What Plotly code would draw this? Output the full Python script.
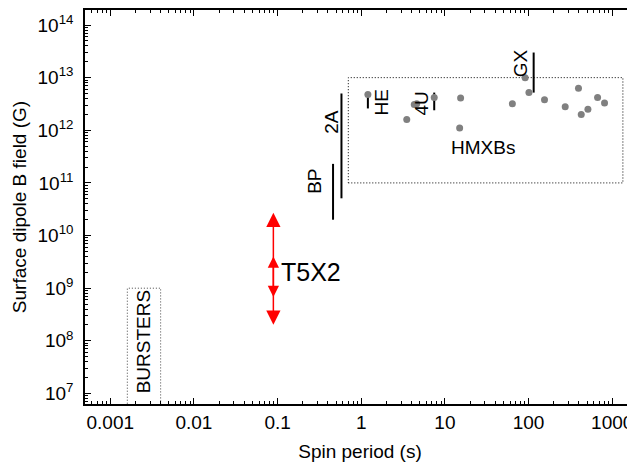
import numpy as np
import plotly.graph_objects as go

# HMXB sources (spin period s, B field G)
hmxb_period = [1.2, 3.5, 4.3, 4.6, 7.45, 15.4, 15, 64, 91, 101, 155, 274, 395, 426, 512, 668, 809]
hmxb_field = [4.8e12, 1.6e12, 3.1e12, 3.2e12, 4.2e12, 4.1e12, 1.1e12, 3.2e12, 1.0e13, 5.2e12,
              3.8e12, 2.8e12, 6.3e12, 2.0e12, 2.5e12, 4.2e12, 3.3e12]

# Vertical range bars for named sources
bar_names = ["BP", "2A", "HE", "4U", "GX"]
bar_period = [0.46, 0.58, 1.2, 7.45, 115]
bar_field_lo = [2.0e10, 5.1e10, 2.6e12, 2.4e12, 5.2e12]
bar_field_hi = [2.3e11, 5.0e12, 5.0e12, 5.2e12, 3.0e13]

# Label positions (period, field)
label_text = ["BP", "2A", "HE", "4U", "GX", "HMXBs", "BURSTERS"]
label_period = [0.28, 0.447, 1.73, 5.3, 81, 28.7, 0.0025]
label_field = [1.05e11, 1.45e12, 3.4e12, 3.2e12, 1.86e13, 4.8e11, 9.6e7]
label_angle = [-90, -90, -90, -90, -90, 0, -90]

# Region boxes
hmxb_box_period = [0.7, 1340]
hmxb_box_field = [1e11, 1e13]
burst_box_period = [0.0016, 0.004]
burst_box_field = [1e6, 1e9]

# T5X2 ranges
t5x2_period = 0.089
t5x2_outer = [1.9e8, 2.7e10]
t5x2_inner = [6.4e8, 4.0e9]
t5x2_label_period = 0.105
t5x2_label_field = 2.0e9

# axis ticks (labelled decades, and decades holding minor ticks)
x_decades = list(range(-3, 4))
y_decades = list(range(7, 15))
x_minor_decades = list(range(-4, 4))
y_minor_decades = list(range(6, 15))

FONT = "Liberation Sans, Arial, sans-serif"
FS = 19

fig = go.Figure()

def box_trace(px, fy, color):
    xs = [px[0], px[1], px[1], px[0], px[0]]
    ys = [fy[0], fy[0], fy[1], fy[1], fy[0]]
    return go.Scatter(x=xs, y=ys, mode="lines", line=dict(color=color, width=1, dash="1px,2px"),
                      hoverinfo="skip", showlegend=False)

fig.add_trace(box_trace(hmxb_box_period, hmxb_box_field, "black"))
fig.add_trace(box_trace(burst_box_period, burst_box_field, "#444444"))

# vertical bars
bx, by = [], []
for p, lo, hi in zip(bar_period, bar_field_lo, bar_field_hi):
    bx += [p, p, None]
    by += [lo, hi, None]
fig.add_trace(go.Scatter(x=bx, y=by, mode="lines", line=dict(color="black", width=2),
                         showlegend=False, hoverinfo="skip"))

fig.add_trace(go.Scatter(x=hmxb_period, y=hmxb_field, mode="markers",
                         marker=dict(color="#808080", size=7), showlegend=False))

# labels
for t, p, f, a in zip(label_text, label_period, label_field, label_angle):
    fig.add_annotation(x=np.log10(p), y=np.log10(f), text=t, textangle=a, showarrow=False,
                       font=dict(family=FONT, size=FS, color="black"))

# T5X2 arrows
for rng, sz in ((t5x2_outer, 1.9), (t5x2_inner, 1.5)):
    fig.add_annotation(x=np.log10(t5x2_period), y=np.log10(rng[1]),
                       ax=np.log10(t5x2_period), ay=np.log10(rng[0]),
                       xref="x", yref="y", axref="x", ayref="y", text="",
                       showarrow=True, arrowhead=2, arrowside="end+start",
                       arrowsize=sz, arrowwidth=1.5, arrowcolor="red")
fig.add_annotation(x=np.log10(t5x2_label_period), y=np.log10(t5x2_label_field), text="T5X2",
                   showarrow=False, xanchor="left", font=dict(family=FONT, size=25, color="black"))

def minor_vals(decades):
    return [m * 10.0 ** e for e in decades for m in range(2, 10)]

axis_common = dict(type="log", showgrid=False, zeroline=False, showline=True, linecolor="black",
                   linewidth=1.5, mirror="ticks", ticks="inside", ticklen=6, tickcolor="black",
                   tickwidth=1, automargin=False,
                   tickfont=dict(family=FONT, size=FS, color="black"))

fig.update_xaxes(**axis_common, range=[-3.302, 3.272],
                 tickmode="array", tickvals=[10.0 ** e for e in x_decades],
                 ticktext=[("%g" % (10.0 ** e)) if e < 0 else str(int(10 ** e)) for e in x_decades],
                 minor=dict(tickmode="array", tickvals=minor_vals(x_minor_decades), ticks="inside",
                            ticklen=3, tickcolor="black", showgrid=False),
                 title=dict(text="Spin period (s)", font=dict(family=FONT, size=FS, color="black"),
                            standoff=13))
fig.update_yaxes(**axis_common, range=[6.80, 14.285],
                 tickmode="array", tickvals=[10.0 ** e for e in y_decades],
                 ticktext=["10<sup>%d</sup>" % e for e in y_decades],
                 minor=dict(tickmode="array", tickvals=minor_vals(y_minor_decades), ticks="inside",
                            ticklen=3, tickcolor="black", showgrid=False),
                 ticklabelstandoff=6,
                 title=dict(text="Surface dipole B field (G)", font=dict(family=FONT, size=FS, color="black"),
                            standoff=6))

# page body has an 8px margin, so the figure is sized/offset to land the plot frame correctly
fig.update_layout(width=627, height=456, margin=dict(l=77, r=0, t=2, b=60),
                  plot_bgcolor="white", paper_bgcolor="white", showlegend=False)

fig.write_html("out.html")
